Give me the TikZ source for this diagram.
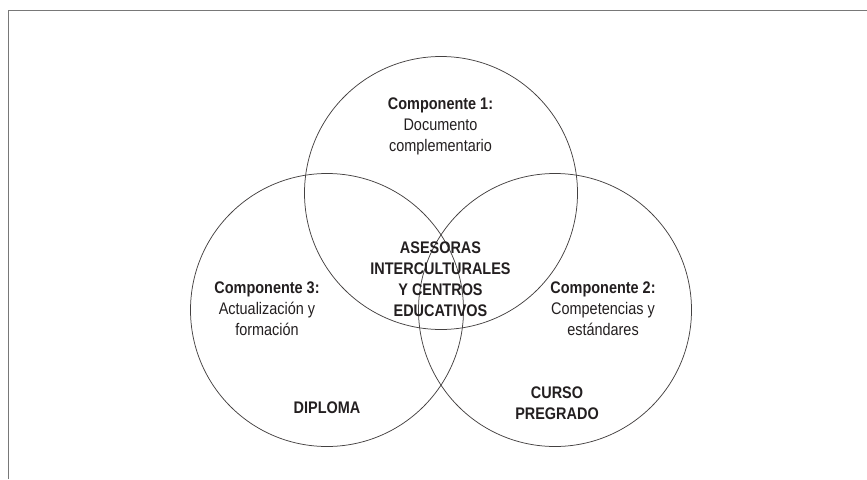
\documentclass[tikz,border=0pt]{standalone}
\usepackage{fontspec}
\setmainfont[FakeStretch=0.86]{Liberation Sans}
\definecolor{ink}{HTML}{231F20}
\definecolor{framegray}{HTML}{787878}
\begin{document}
\begin{tikzpicture}[x=1pt,y=-1pt,
  ring/.style={circle, draw=ink!85, line width=0.75pt, minimum size=273pt, inner sep=0pt},
  lbl/.style={align=center, text=ink, font=\fontsize{16.8}{21}\selectfont, inner sep=0pt}]
\useasboundingbox (0,0) rectangle (867,479);
% frame
\draw[framegray, line width=1.6pt] (8.5,479) -- (8.5,10.5) -- (867,10.5);
% circles
\node[ring] (top) at (441,193) {};
\node[ring] (left) at (327,310) {};
\node[ring] (right) at (555,310) {};
% texts
\node[lbl] (t1) at (440.5,126) {\textbf{Componente 1:}\\Documento\\complementario};
\node[lbl] (tc) at (440.5,279) {\textbf{ASESORAS}\\\textbf{INTERCULTURALES}\\\textbf{Y CENTROS}\\\textbf{EDUCATIVOS}};
\node[lbl] (t3) at (267,309) {\textbf{Componente 3:}\\Actualización y\\formación};
\node[lbl] (t2) at (603,309) {\textbf{Componente 2:}\\Competencias y\\estándares};
\node[lbl] (dip) at (327,408) {\textbf{DIPLOMA}};
\node[lbl] (cur) at (557,403) {\textbf{CURSO}\\\textbf{PREGRADO}};
\end{tikzpicture}
\end{document}
